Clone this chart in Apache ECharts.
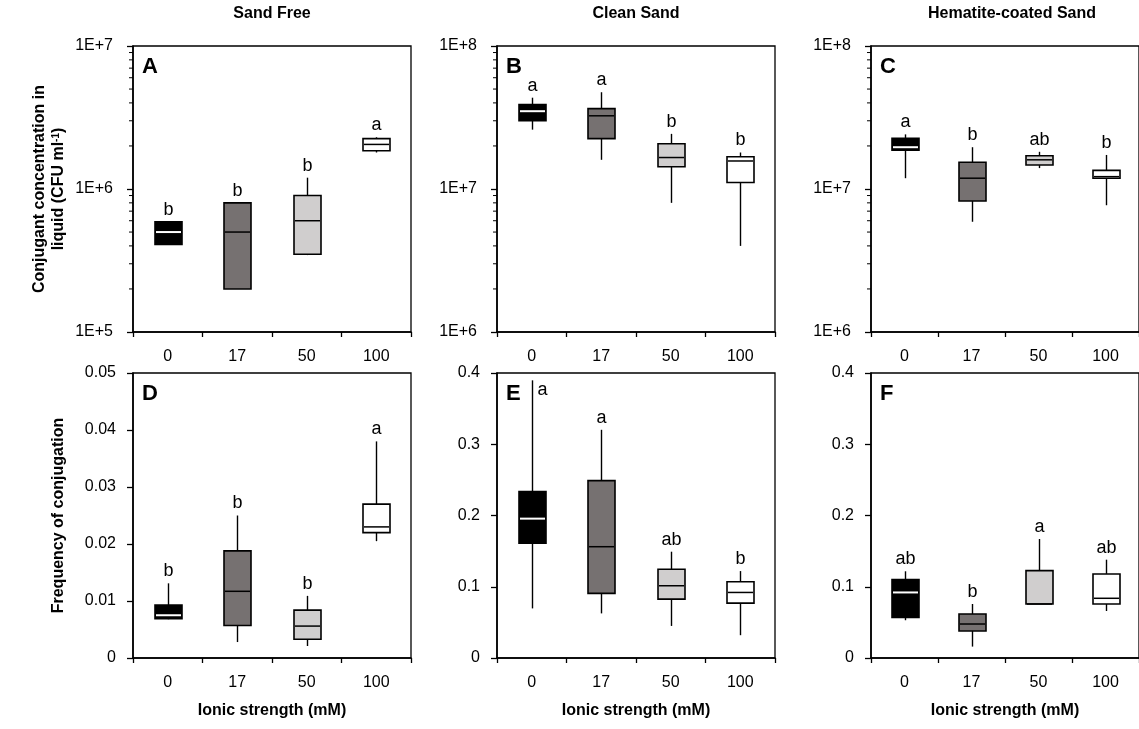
<!DOCTYPE html>
<html>
<head>
<meta charset="utf-8">
<script src="https://cdn.jsdelivr.net/npm/echarts@6/dist/echarts.min.js"></script>
<style>
html, body { margin: 0; padding: 0; background: #fff; overflow: hidden; }
#chart { width: 1139px; height: 729px; }
</style>
</head>
<body>
<div id="chart"></div>
<script>
// Ionic strength groups (mM)
const categories = ['0', '17', '50', '100'];
const columnTitles = ['Sand Free', 'Clean Sand', 'Hematite-coated Sand'];
const panelLetters = ['A', 'B', 'C', 'D', 'E', 'F'];

// Conjugant concentration in liquid (CFU/ml): [min, Q1, median, Q3, max] per group
const concSandFree = [
  [4.1e5, 4.1e5, 5.0e5, 5.9e5, 5.9e5],
  [2.0e5, 2.0e5, 5.0e5, 8.0e5, 8.0e5],
  [3.45e5, 3.5e5, 6.0e5, 9.0e5, 1.2e6],
  [1.8e6, 1.85e6, 2.05e6, 2.25e6, 2.3e6]
];
const concCleanSand = [
  [2.6e7, 3.0e7, 3.5e7, 3.9e7, 4.35e7],
  [1.6e7, 2.25e7, 3.25e7, 3.65e7, 4.75e7],
  [8.0e6, 1.43e7, 1.66e7, 2.07e7, 2.43e7],
  [4.0e6, 1.11e7, 1.57e7, 1.68e7, 1.8e7]
];
const concHematiteSand = [
  [1.19e7, 1.87e7, 1.96e7, 2.26e7, 2.41e7],
  [5.9e6, 8.25e6, 1.19e7, 1.54e7, 1.96e7],
  [1.4e7, 1.47e7, 1.6e7, 1.71e7, 1.82e7],
  [7.7e6, 1.19e7, 1.22e7, 1.35e7, 1.73e7]
];

// Frequency of conjugation: [min, Q1, median, Q3, max] per group
const freqSandFree = [
  [0.0068, 0.0069, 0.0075, 0.0093, 0.0131],
  [0.0028, 0.0057, 0.0117, 0.0188, 0.0250],
  [0.0021, 0.0033, 0.0056, 0.0084, 0.0109],
  [0.0205, 0.0220, 0.0230, 0.0270, 0.0380]
];
const freqCleanSand = [
  [0.0696, 0.161, 0.1956, 0.2336, 0.3897],
  [0.0626, 0.0907, 0.1562, 0.249, 0.3203],
  [0.045, 0.0827, 0.1014, 0.1245, 0.1492],
  [0.032, 0.077, 0.092, 0.107, 0.122]
];
const freqHematiteSand = [
  [0.053, 0.057, 0.092, 0.110, 0.1217],
  [0.016, 0.038, 0.0477, 0.0618, 0.0758],
  [0.0758, 0.0758, 0.0758, 0.1226, 0.167],
  [0.066, 0.0758, 0.0838, 0.118, 0.138]
];

// Significance groupings
const lettersConcSandFree = ['b', 'b', 'b', 'a'];
const lettersConcCleanSand = ['a', 'a', 'b', 'b'];
const lettersConcHematiteSand = ['a', 'b', 'ab', 'b'];
const lettersFreqSandFree = ['b', 'b', 'b', 'a'];
const lettersFreqCleanSand = ['a', 'a', 'ab', 'b'];
const lettersFreqHematiteSand = ['ab', 'b', 'a', 'ab'];

// Axis ranges
const concMin = [1e5, 1e6, 1e6];
const concMax = [1e7, 1e8, 1e8];
const freqMax = [0.05, 0.4, 0.4];
const freqStep = [0.01, 0.1, 0.1];
const freqDecimals = [2, 1, 1];
const minorMultipliers = [2, 3, 4, 5, 6, 7, 8, 9];

const FONT = '"Liberation Sans", Arial, Helvetica, sans-serif';
const BOX_FILLS = ['#000000', '#767171', '#d0cece', '#ffffff'];
const BOX_WIDTH = 27;

const colLeft = [133, 497, 871];
const colWidth = [278, 278, 277];
const titleCenter = [272, 636, 1012];
const rowTop = [46, 373];
const rowHeight = [286, 285];

const panels = [
  { data: concSandFree, letters: lettersConcSandFree },
  { data: concCleanSand, letters: lettersConcCleanSand },
  { data: concHematiteSand, letters: lettersConcHematiteSand },
  { data: freqSandFree, letters: lettersFreqSandFree },
  { data: freqCleanSand, letters: lettersFreqCleanSand, sideLabel: [0] },
  { data: freqHematiteSand, letters: lettersFreqHematiteSand }
];

// Box with plain whiskers (no caps); the black box gets a white median
function boxRenderer(letters, sideLabel) {
  return function (params, api) {
    const idx = params.dataIndex;
    const i = api.value(0);
    const lo = api.coord([i, api.value(1)]);
    const q1 = api.coord([i, api.value(2)]);
    const md = api.coord([i, api.value(3)]);
    const q3 = api.coord([i, api.value(4)]);
    const hi = api.coord([i, api.value(5)]);
    const cx = Math.round(md[0]) + 0.5;
    const hw = BOX_WIDTH / 2;
    const side = sideLabel && sideLabel.indexOf(idx) >= 0;
    const children = [];
    if (hi[1] < q3[1] - 0.5) {
      children.push({ type: 'line', shape: { x1: cx, y1: hi[1], x2: cx, y2: q3[1] },
        style: { stroke: '#000', lineWidth: 1.4 } });
    }
    if (lo[1] > q1[1] + 0.5) {
      children.push({ type: 'line', shape: { x1: cx, y1: q1[1], x2: cx, y2: lo[1] },
        style: { stroke: '#000', lineWidth: 1.4 } });
    }
    children.push({ type: 'rect',
      shape: { x: cx - hw, y: q3[1], width: 2 * hw, height: q1[1] - q3[1] },
      style: { fill: BOX_FILLS[idx], stroke: '#000', lineWidth: 1.6 } });
    children.push({ type: 'line',
      shape: { x1: cx - hw + 1, y1: md[1], x2: cx + hw - 1, y2: md[1] },
      style: { stroke: idx === 0 ? '#ffffff' : '#000000', lineWidth: idx === 0 ? 2 : 1.5 } });
    children.push({ type: 'text',
      x: side ? cx + 5 : cx,
      y: side ? hi[1] + 1 : hi[1] - 3,
      style: {
        text: letters[idx], fill: '#000', font: '18px ' + FONT,
        align: side ? 'left' : 'center', textAlign: side ? 'left' : 'center',
        verticalAlign: side ? 'top' : 'bottom', textVerticalAlign: side ? 'top' : 'bottom'
      } });
    return { type: 'group', children: children };
  };
}

// Short outward ticks at 2..9 x 10^n on the log axes
function minorTickRenderer(params, api) {
  const v = api.value(1);
  const p0 = api.coord([0, v]);
  const p1 = api.coord([1, v]);
  const x0 = p0[0] - (p1[0] - p0[0]) / 2;
  return { type: 'line', shape: { x1: x0 - 4, y1: p0[1], x2: x0, y2: p0[1] },
    style: { stroke: '#000', lineWidth: 1 } };
}

const grids = [], xAxes = [], yAxes = [], series = [], graphics = [];

for (let k = 0; k < 6; k++) {
  const row = k < 3 ? 0 : 1;
  const col = k % 3;
  grids.push({
    left: colLeft[col], top: rowTop[row], width: colWidth[col], height: rowHeight[row],
    show: true, borderColor: '#000', borderWidth: 1.3, containLabel: false
  });
  const xAxis = {
    type: 'category', gridIndex: k, data: categories, boundaryGap: true,
    axisLine: { onZero: false, lineStyle: { color: '#000', width: 1.6 } },
    axisTick: { show: true, inside: false, length: 5, interval: 0, alignWithLabel: false,
      lineStyle: { color: '#000', width: 1.3 } },
    axisLabel: { color: '#000', fontSize: 16, fontFamily: FONT, margin: 17, interval: 0 },
    splitLine: { show: false }
  };
  if (row === 1) {
    xAxis.name = 'Ionic strength (mM)';
    xAxis.nameLocation = 'middle';
    xAxis.nameGap = 45;
    xAxis.nameTextStyle = { color: '#000', fontSize: 16, fontWeight: 'bold', fontFamily: FONT };
  }
  xAxes.push(xAxis);

  if (row === 0) {
    yAxes.push({
      type: 'log', logBase: 10, gridIndex: k, min: concMin[col], max: concMax[col],
      axisLine: { show: true, lineStyle: { color: '#000', width: 1.6 } },
      axisTick: { show: true, inside: false, length: 6, lineStyle: { color: '#000', width: 1.3 } },
      axisLabel: { color: '#000', fontSize: 16, fontFamily: FONT, margin: 20,
        formatter: function (v) { return '1E+' + Math.round(Math.log10(v)); } },
      splitLine: { show: false }
    });
  } else {
    const dec = freqDecimals[col];
    yAxes.push({
      type: 'value', gridIndex: k, min: 0, max: freqMax[col], interval: freqStep[col],
      axisLine: { show: true, lineStyle: { color: '#000', width: 1.6 } },
      axisTick: { show: true, inside: false, length: 6, lineStyle: { color: '#000', width: 1.3 } },
      axisLabel: { color: '#000', fontSize: 16, fontFamily: FONT, margin: 17,
        formatter: function (v) { return v === 0 ? '0' : v.toFixed(dec); } },
      splitLine: { show: false }
    });
  }

  const p = panels[k];
  series.push({
    type: 'custom', xAxisIndex: k, yAxisIndex: k, clip: false,
    renderItem: boxRenderer(p.letters, p.sideLabel),
    encode: { x: 0, y: [1, 2, 3, 4, 5] },
    data: p.data.map(function (d, i) { return [i].concat(d); }),
    silent: true
  });

  if (row === 0) {
    const minorData = [];
    const lowExp = Math.round(Math.log10(concMin[col]));
    const highExp = Math.round(Math.log10(concMax[col]));
    for (let e = lowExp; e < highExp; e++) {
      minorMultipliers.forEach(function (m) { minorData.push([0, m * Math.pow(10, e)]); });
    }
    series.push({
      type: 'custom', xAxisIndex: k, yAxisIndex: k, clip: false,
      renderItem: minorTickRenderer, encode: { x: 0, y: 1 }, data: minorData, silent: true
    });
  }

  // panel letter
  graphics.push({
    type: 'text', x: colLeft[col] + 9, y: rowTop[row] + 10,
    style: { text: panelLetters[k], font: 'bold 22px ' + FONT, fill: '#000',
      align: 'left', textAlign: 'left', verticalAlign: 'top', textVerticalAlign: 'top' }
  });
}

// column headings
for (let c = 0; c < 3; c++) {
  graphics.push({
    type: 'text', x: titleCenter[c], y: 14,
    style: { text: columnTitles[c], font: 'bold 16px ' + FONT, fill: '#000',
      align: 'center', textAlign: 'center', verticalAlign: 'middle', textVerticalAlign: 'middle' }
  });
}

// vertical axis titles
graphics.push({
  type: 'text', x: 40, y: rowTop[0] + rowHeight[0] / 2, rotation: Math.PI / 2,
  style: { text: 'Conjugant concentration in', font: 'bold 16px ' + FONT, fill: '#000',
    align: 'center', textAlign: 'center', verticalAlign: 'middle', textVerticalAlign: 'middle' }
});
graphics.push({
  type: 'text', x: 59, y: rowTop[0] + rowHeight[0] / 2, rotation: Math.PI / 2,
  style: { text: 'liquid (CFU ml{sup|-1})', font: 'bold 16px ' + FONT, fill: '#000',
    align: 'center', textAlign: 'center', verticalAlign: 'middle', textVerticalAlign: 'middle',
    rich: { sup: { fontSize: 10, fontWeight: 'bold', fontFamily: FONT, verticalAlign: 'top', fill: '#000' } } }
});
graphics.push({
  type: 'text', x: 59, y: rowTop[1] + rowHeight[1] / 2, rotation: Math.PI / 2,
  style: { text: 'Frequency of conjugation', font: 'bold 16px ' + FONT, fill: '#000',
    align: 'center', textAlign: 'center', verticalAlign: 'middle', textVerticalAlign: 'middle' }
});

const chart = echarts.init(document.getElementById('chart'), null, { renderer: 'canvas' });
chart.setOption({
  animation: false,
  backgroundColor: '#ffffff',
  textStyle: { fontFamily: FONT },
  grid: grids,
  xAxis: xAxes,
  yAxis: yAxes,
  series: series,
  graphic: graphics
});
</script>
</body>
</html>
